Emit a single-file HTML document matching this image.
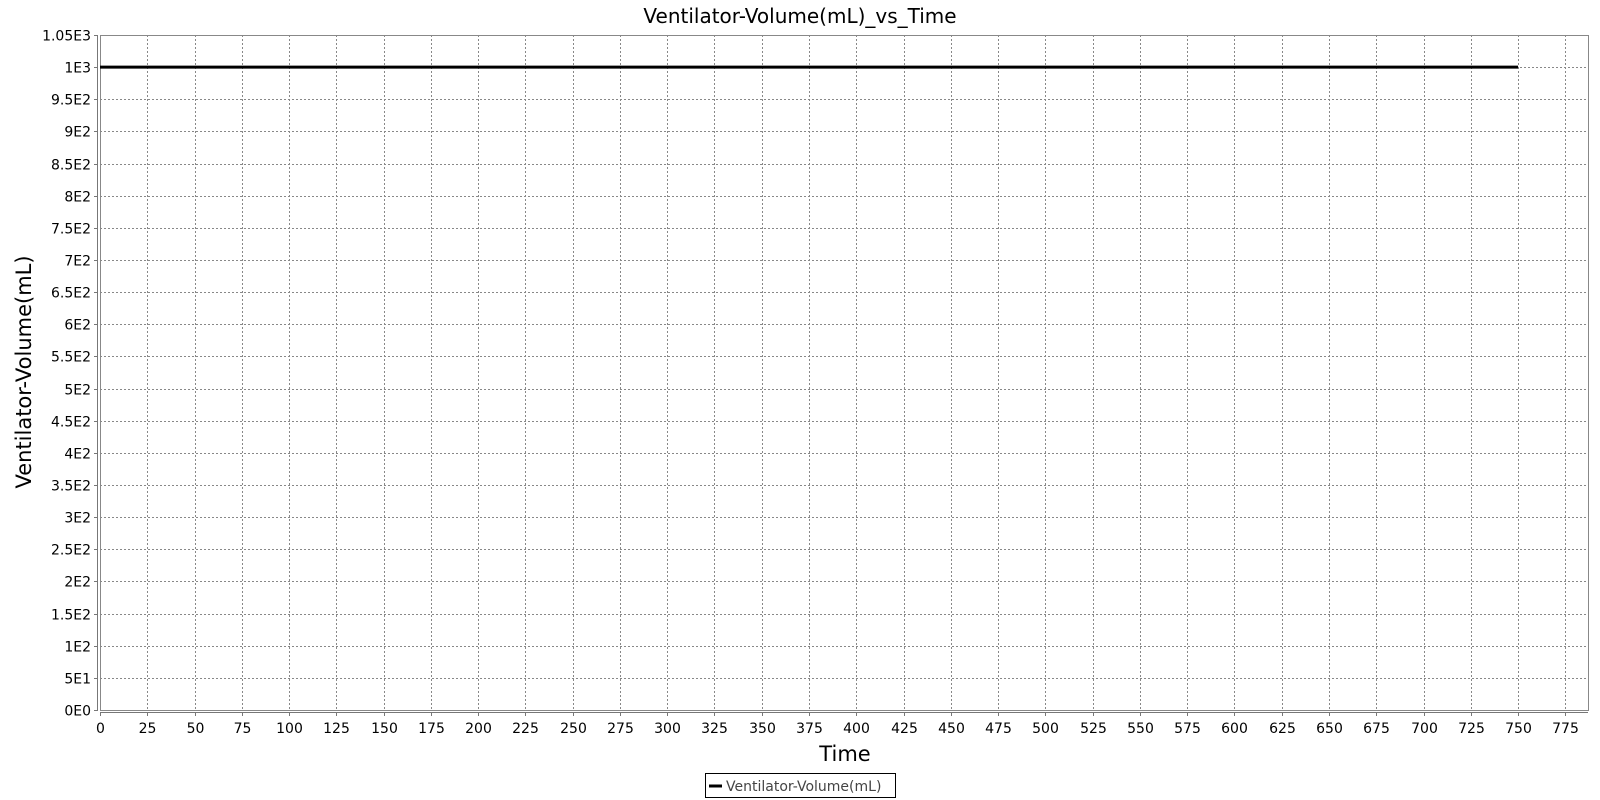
<!DOCTYPE html>
<html><head><meta charset="utf-8"><style>
html,body{margin:0;padding:0;background:#fff;}
svg{display:block;font-family:"DejaVu Sans","Liberation Sans",sans-serif;}
</style></head><body>
<svg id="chart" width="1600" height="800">
<text x="800" y="23" font-size="20" text-anchor="middle" fill="#000">Ventilator-Volume(mL)_vs_Time</text>
<g id="grid"></g>
<g id="axes"></g>
<g id="series"></g>
<text x="845" y="761" font-size="21" text-anchor="middle" fill="#000">Time</text>
<text transform="translate(31,372) rotate(-90)" font-size="21" text-anchor="middle" fill="#000">Ventilator-Volume(mL)</text>
<g>
<rect x="705.5" y="773.5" width="190" height="24" fill="#fff" stroke="#000"/>
<line x1="709" y1="786" x2="722" y2="786" stroke="#000" stroke-width="3"/>
<text x="726" y="791" font-size="14" fill="#444">Ventilator-Volume(mL)</text>
</g>
</svg>
<script>
const xTicks = [0,25,50,75,100,125,150,175,200,225,250,275,300,325,350,375,400,425,450,475,500,525,550,575,600,625,650,675,700,725,750,775];
const yTicks = [0,50,100,150,200,250,300,350,400,450,500,550,600,650,700,750,800,850,900,950,1000,1050];
const yTickLabels = ["0E0","5E1","1E2","1.5E2","2E2","2.5E2","3E2","3.5E2","4E2","4.5E2","5E2","5.5E2","6E2","6.5E2","7E2","7.5E2","8E2","8.5E2","9E2","9.5E2","1E3","1.05E3"];
const times = [0,750];
const volumes = [1000,1000];

const L=100,R=1588,T=35,B=710,XMAX=787,YMAX=1050;
const sx=v=>L+v*(R-L)/XMAX;
const sy=v=>B-v*(B-T)/YMAX;
const NS="http://www.w3.org/2000/svg";
function mk(tag,attrs,parent){const e=document.createElementNS(NS,tag);for(const k in attrs)e.setAttribute(k,attrs[k]);parent.appendChild(e);return e;}
const grid=document.getElementById('grid'),axes=document.getElementById('axes'),series=document.getElementById('series');

xTicks.forEach(t=>{
  const x=Math.round(sx(t))+0.5;
  const g=mk('line',{x1:x,y1:T,x2:x,y2:B,stroke:'#888','stroke-dasharray':'2,2','stroke-width':1},grid);
  
  
  const tk=mk('line',{x1:x,y1:B+2,x2:x,y2:B+6,stroke:'#777'},axes);
  
  
  const tx=mk('text',{x:x,y:B+23,'font-size':14,'text-anchor':'middle',fill:'#000'},axes);
  tx.textContent=t;
  
  
});
yTicks.forEach((t,i)=>{
  const y=Math.round(sy(t))+0.5;
  const g=mk('line',{x1:L,y1:y,x2:R,y2:y,stroke:'#888','stroke-dasharray':'2,2','stroke-width':1},grid);
  
  
  const tk=mk('line',{x1:L-6,y1:y,x2:L-2,y2:y,stroke:'#777'},axes);
  
  
  const tx=mk('text',{x:L-9,y:y+5,'font-size':14,'text-anchor':'end',fill:'#000'},axes);
  tx.textContent=yTickLabels[i];
  
  
});
const frame=mk('rect',{x:L+0.5,y:T+0.5,width:R-L,height:B-T,fill:'none',stroke:'#888'},axes);


const ya=mk('line',{x1:L-2.5,y1:T,x2:L-2.5,y2:B,stroke:'#777'},axes);


const xa=mk('line',{x1:L,y1:B+2.5,x2:R,y2:B+2.5,stroke:'#777'},axes);



const pts=times.map((t,i)=>sx(t)+','+sy(volumes[i])).join(' ');
const line=mk('polyline',{points:pts,fill:'none',stroke:'#000','stroke-width':3},series);


</script>
</body></html>
